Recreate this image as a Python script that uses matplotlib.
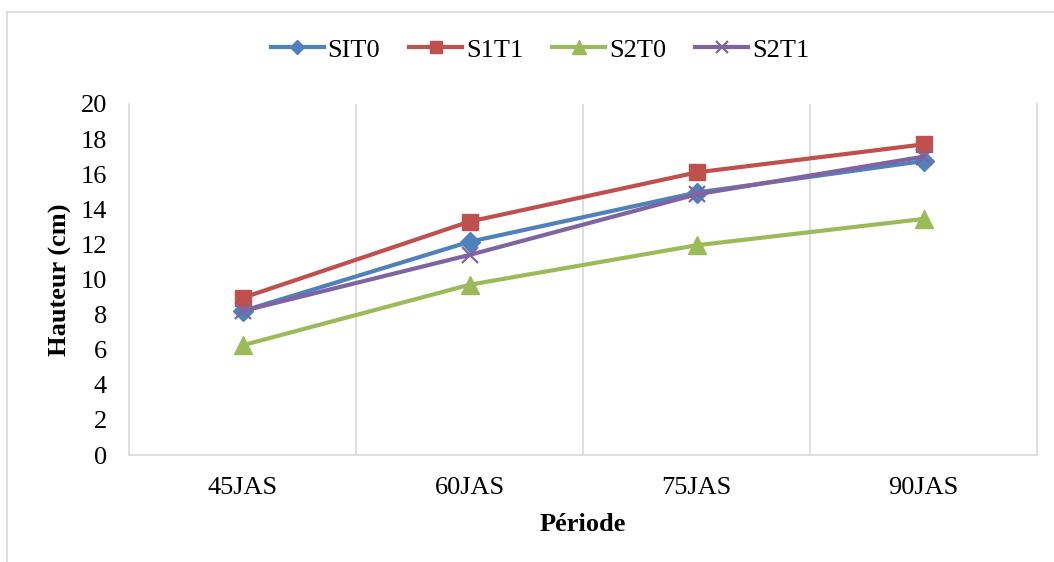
import numpy as np
import matplotlib.pyplot as plt
from matplotlib.lines import Line2D

# data
periodes = ['45JAS', '60JAS', '75JAS', '90JAS']
sit0 = [8.2, 12.15, 14.95, 16.75]
s1t1 = [8.95, 13.3, 16.1, 17.7]
s2t0 = [6.25, 9.7, 11.95, 13.45]
s2t1 = [8.2, 11.4, 14.85, 17.0]

plt.rcParams['font.family'] = ['Liberation Serif', 'DejaVu Serif']
fs = 19

fig = plt.figure(figsize=(10.54, 5.62), dpi=100)
ax = fig.add_axes([129 / 1054, 1 - 455 / 562, (1037 - 129) / 1054, (455 - 104) / 562])

x = np.arange(len(periodes)) + 0.5
lw = 3
ax.plot(x, sit0, color='#4F81BD', lw=lw, marker='D', ms=10, label='SIT0', zorder=3)
ax.plot(x, s1t1, color='#C0504D', lw=lw, marker='s', ms=12, label='S1T1', zorder=3)
ax.plot(x, s2t0, color='#9BBB59', lw=lw, marker='^', ms=13, label='S2T0', zorder=3)
ax.plot(x, s2t1, color='#8064A2', lw=lw, marker='x', ms=12, mew=1.6, label='S2T1', zorder=3)

ax.set_xlim(0, 4)
ax.set_ylim(0, 20)
ax.set_yticks(np.arange(0, 21, 2))
ax.set_xticks(x)
ax.set_xticklabels(periodes)
ax.tick_params(length=0, labelsize=fs)
ax.tick_params(axis='x', pad=16)
ax.tick_params(axis='y', pad=16)

# category boundary gridlines
for b in [1, 2, 3]:
    ax.axvline(b, color='#D9D9D9', lw=1.2, zorder=1)

for s in ['left', 'bottom', 'right']:
    ax.spines[s].set_color('#D9D9D9')
    ax.spines[s].set_linewidth(1.2)
ax.spines['top'].set_visible(False)

ax.set_xlabel('Période', fontsize=fs, fontweight='bold', labelpad=10)
ax.set_ylabel('Hauteur (cm)', fontsize=fs, fontweight='bold', labelpad=6)

ax.legend(loc='center', bbox_to_anchor=(540 / 1054, 1 - 50 / 562), bbox_transform=fig.transFigure,
          ncol=4, frameon=False, fontsize=fs, handlelength=2.0, columnspacing=1.1,
          handletextpad=0.15, markerscale=0.75, borderpad=0)

# outer chart frame
fig.add_artist(Line2D([7 / 1054, 7 / 1054], [0, 1 - 12 / 562], color='#D9D9D9', lw=1.2))
fig.add_artist(Line2D([7 / 1054, 1], [1 - 12 / 562, 1 - 12 / 562], color='#D9D9D9', lw=1.2))

fig.savefig('out.png', dpi=100)
